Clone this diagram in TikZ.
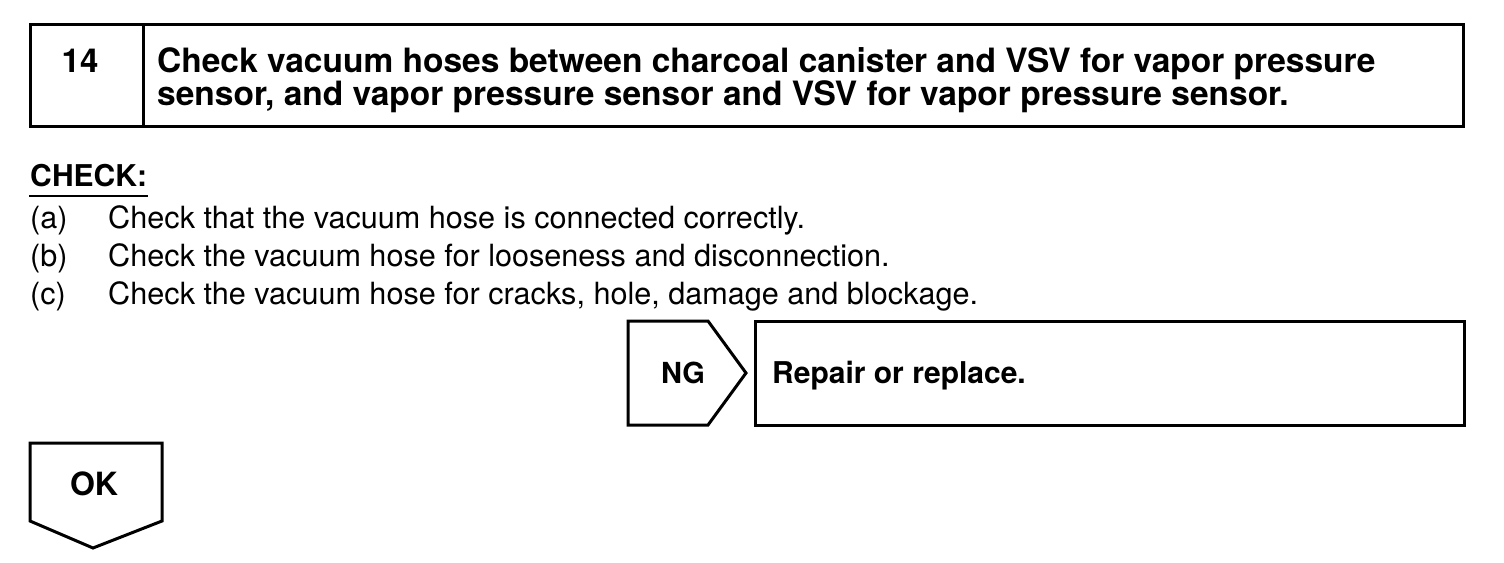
\documentclass[tikz,border=0pt]{standalone}
\usepackage{fontspec}
\setmainfont{TeX Gyre Heros}
\begin{document}
\begin{tikzpicture}[x=1pt,y=-1pt,
  frame/.style={draw=black, line width=3pt, line join=miter},
  titletxt/.style={font=\fontsize{33.5}{33.5}\selectfont\bfseries, inner sep=0pt, anchor=base west},
  boldtxt/.style={font=\fontsize{30}{30}\selectfont\bfseries, inner sep=0pt, anchor=base west},
  bodytxt/.style={font=\fontsize{30.6}{30.6}\selectfont, inner sep=0pt, anchor=base west},
  ctrtxt/.style={font=\fontsize{29}{29}\selectfont\bfseries, inner sep=0pt, anchor=base}]
\useasboundingbox (0,0) rectangle (1504,562);
% header box
\coordinate (htl) at (30,24);
\coordinate (hbr) at (1463,126);
\coordinate (hdt) at (143,24);
\coordinate (hdb) at (143,126);
\draw[frame] (htl) rectangle (hbr);
\draw[frame] (hdt) -- (hdb);
\node[ctrtxt, font=\fontsize{33}{33}\selectfont\bfseries] (num) at (80,72) {14};
\node[titletxt] (t1) at (157,72) {Check vacuum hoses between charcoal canister and VSV for vapor pressure};
\node[titletxt] (t2) at (157,105) {sensor, and vapor pressure sensor and VSV for vapor pressure sensor.};
% check
\node[boldtxt] (chk) at (30,186) {CHECK:};
\coordinate (ul1) at (29,196);
\coordinate (ul2) at (148,196);
\draw[line width=2pt] (ul1) -- (ul2);
\node[bodytxt] (la) at (30,228) {(a)};
\node[bodytxt] (ta) at (108,228) {Check that the vacuum hose is connected correctly.};
\node[bodytxt] (lb) at (30,266) {(b)};
\node[bodytxt] (tb) at (108,266) {Check the vacuum hose for looseness and disconnection.};
\node[bodytxt] (lc) at (30,304) {(c)};
\node[bodytxt] (tc) at (108,304) {Check the vacuum hose for cracks, hole, damage and blockage.};
% NG
\coordinate (n1) at (628,321);
\coordinate (n2) at (708,321);
\coordinate (n3) at (746,373);
\coordinate (n4) at (708,425);
\coordinate (n5) at (628,425);
\draw[frame] (n1) -- (n2) -- (n3) -- (n4) -- (n5) -- cycle;
\node[ctrtxt] (ng) at (683,383) {NG};
\coordinate (r1) at (755,321);
\coordinate (r2) at (1464,425);
\draw[frame] (r1) rectangle (r2);
\node[boldtxt] (rep) at (772,383) {Repair or replace.};
% OK
\coordinate (o1) at (30,443);
\coordinate (o2) at (162,443);
\coordinate (o3) at (162,521);
\coordinate (o4) at (93,548);
\coordinate (o5) at (30,521);
\draw[frame] (o1) -- (o2) -- (o3) -- (o4) -- (o5) -- cycle;
\node[ctrtxt, font=\fontsize{32}{32}\selectfont\bfseries] (ok) at (94,495) {OK};
\end{tikzpicture}
\end{document}
